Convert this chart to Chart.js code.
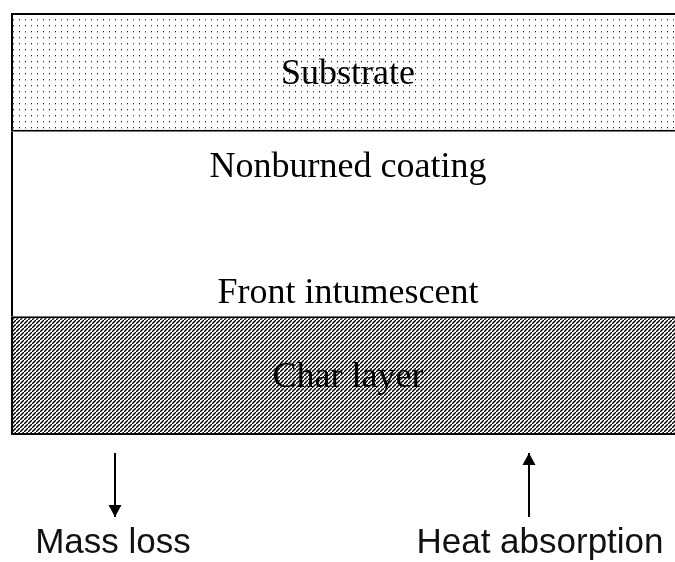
<!DOCTYPE html>
<html>
<head>
<meta charset="utf-8">
<script src="https://cdn.jsdelivr.net/npm/chart.js@4.4.1/dist/chart.umd.min.js"></script>
<style>
  html, body { margin: 0; padding: 0; background: #fff; }
  #wrap { width: 675px; height: 562px; }
</style>
</head>
<body>
<div id="wrap"><canvas id="layers"></canvas></div>
<script>
// layers from bottom (fire side) to top
const layerNames = ['Char layer', 'Nonburned coating', 'Substrate'];
const layerThickness = [1.0, 1.55, 1.0];
const coatingLabels = ['Nonburned coating', 'Front intumescent'];
const bottomLabels = ['Mass loss', 'Heat absorption'];

// --- patrones de relleno ---
function dotPattern() {
    const c = document.createElement('canvas');
    c.width = 12; c.height = 12;
    const g = c.getContext('2d');
    g.fillStyle = '#fff';
    g.fillRect(0, 0, 12, 12);
    const dots = [[1, 1, '#111'], [7, 1, '#444'], [1, 7, '#555'], [7, 7, '#222']];
    dots.forEach(([x, y, col]) => {
        g.fillStyle = col; g.fillRect(x, y, 1, 1);
        g.fillStyle = '#bbb'; g.fillRect(x, y + 1, 1, 1);
    });
    return g.createPattern(c, 'repeat');
}

function hatchPattern() {
    const c = document.createElement('canvas');
    c.width = 4; c.height = 4;
    const g = c.getContext('2d');
    g.fillStyle = '#fff';
    g.fillRect(0, 0, 4, 4);
    g.strokeStyle = '#000';
    g.lineWidth = 1.4;
    g.beginPath();
    g.moveTo(-1, 5); g.lineTo(5, -1);
    g.stroke();
    return g.createPattern(c, 'repeat');
}

const fills = [hatchPattern(), '#ffffff', dotPattern()];
const borders = [
    { top: 2, bottom: 2, left: 2, right: 0 },
    { top: 0, bottom: 0, left: 2, right: 0 },
    { top: 2, bottom: 2, left: 2, right: 0 }
];

const labelPlugin = {
    id: 'labelPlugin',
    afterDatasetsDraw(chart) {
        const ctx = chart.ctx;
        const area = chart.chartArea;
        const cx = 348;
        ctx.save();
        ctx.fillStyle = '#000';
        ctx.textAlign = 'center';
        ctx.textBaseline = 'alphabetic';
        ctx.font = '36px "Liberation Serif", "Times New Roman", serif';
        const cap = 36 * 0.33;

        const bar = i => chart.getDatasetMeta(i).data[0];
        // char layer y substrate: centrados en su capa
        [0, 2].forEach(i => {
            const b = bar(i);
            ctx.fillText(layerNames[i], cx, (b.y + b.base) / 2 + cap);
        });
        // capa sin quemar: texto arriba y abajo
        const mid = bar(1);
        ctx.fillText(coatingLabels[0], cx, mid.y + 45);
        ctx.fillText(coatingLabels[1], cx, mid.base - 13);

        // flechas
        ctx.strokeStyle = '#000';
        ctx.lineWidth = 2;
        const y0 = area.bottom + 18, y1 = area.bottom + 82;
        const arrow = (x, down) => {
            ctx.beginPath();
            ctx.moveTo(x, y0); ctx.lineTo(x, y1);
            ctx.stroke();
            const tip = down ? y1 : y0;
            const back = down ? tip - 12 : tip + 12;
            ctx.beginPath();
            ctx.moveTo(x, tip);
            ctx.lineTo(x - 6.5, back);
            ctx.lineTo(x + 6.5, back);
            ctx.closePath();
            ctx.fill();
        };
        arrow(115, true);
        arrow(529, false);

        ctx.font = '35px "Liberation Sans", Arial, sans-serif';
        ctx.fillStyle = '#111';
        ctx.fillText(bottomLabels[0], 113, 553);
        ctx.fillText(bottomLabels[1], 540, 553);
        ctx.restore();
    }
};

new Chart(document.getElementById('layers'), {
    type: 'bar',
    data: {
        labels: [''],
        datasets: layerNames.map((name, i) => ({
            label: name,
            data: [layerThickness[i]],
            backgroundColor: fills[i],
            borderColor: '#000',
            borderWidth: borders[i],
            borderSkipped: false,
            inflateAmount: 0,
            barPercentage: 1,
            categoryPercentage: 1
        }))
    },
    options: {
        responsive: true,
        maintainAspectRatio: false,
        animation: false,
        layout: { padding: { left: 11, right: 0, top: 13, bottom: 127 } },
        plugins: { legend: { display: false }, tooltip: { enabled: false } },
        scales: {
            x: { stacked: true, display: false },
            y: { stacked: true, display: false, min: 0, max: layerThickness.reduce((a, b) => a + b, 0) }
        }
    },
    plugins: [labelPlugin]
});
</script>
</body>
</html>
